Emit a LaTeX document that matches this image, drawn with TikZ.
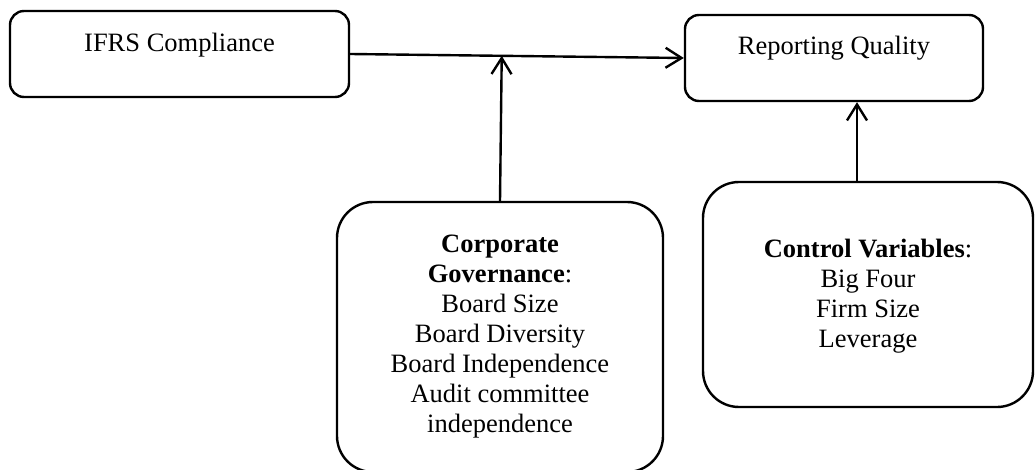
\documentclass[tikz,border=0pt]{standalone}
\usepackage{fontspec}
\setmainfont{Liberation Serif}
\usetikzlibrary{arrows.meta,calc}
\tikzset{
  box/.style={draw, line width=2.4pt, inner sep=0pt, rectangle},
  smallbox/.style={box, rounded corners=14pt},
  bigbox/.style={box, rounded corners=36pt},
  lbl/.style={inner sep=0pt, anchor=north, align=center, font=\fontsize{26.5}{30}\selectfont},
  arr/.style={line width=2.4pt, -{Straight Barb[length=16pt,width=20pt]}}
}
\begin{document}
\begin{tikzpicture}[x=1pt,y=-1pt]
\useasboundingbox (0,0) rectangle (1035,470);
\node[smallbox, minimum width=339pt, minimum height=86pt] (ifrs) at (179.5,54) {};
\node[smallbox, minimum width=298pt, minimum height=86pt] (rq) at (834,58) {};
\node[bigbox, minimum width=326pt, minimum height=270pt] (corp) at (500,337) {};
\node[bigbox, minimum width=330pt, minimum height=225pt] (ctrl) at (868,294.5) {};
\node[lbl] (ifrsText) at ($(ifrs.north)+(0,23)$) {IFRS Compliance};
\node[lbl] (rqText) at ($(rq.north)+(0,22)$) {Reporting Quality};
\node[lbl] (corpText) at ($(corp.north)+(0,34)$) {\textbf{Corporate}\\\textbf{Governance}:\\Board Size\\Board Diversity\\Board Independence\\Audit committee\\independence};
\node[lbl] (ctrlText) at ($(ctrl.north)+(0,58)$) {\textbf{Control Variables}:\\Big Four\\Firm Size\\Leverage};
\draw[arr] (ifrs.east) -- (rq.west);
\coordinate (meet) at ($(ifrs.east)!(corp.north)!(rq.west)$);
\draw[arr] (corp.north) -- (meet);
\coordinate (ctrlTop) at (857,182);
\draw[arr] (ctrlTop) -- (ctrlTop |- rq.south);
\end{tikzpicture}
\end{document}
